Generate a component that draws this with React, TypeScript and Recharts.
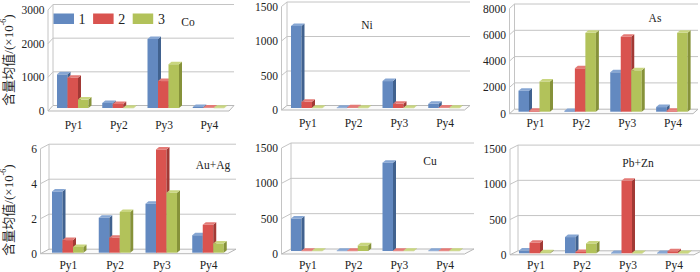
import { BarChart, Bar, XAxis, YAxis, CartesianGrid } from 'recharts';

const categories = ['Py1', 'Py2', 'Py3', 'Py4'];
const seriesNames = ['1', '2', '3'];

// 含量均值 per element, series 1/2/3
const coS1 = [1000, 150, 2050, 30];
const coS2 = [900, 120, 800, 15];
const coS3 = [250, 10, 1300, 10];

const niS1 = [1190, 5, 390, 60];
const niS2 = [90, 10, 60, 8];
const niS3 = [5, 5, 5, 5];

const asS1 = [1600, 60, 3000, 350];
const asS2 = [80, 3300, 5700, 80];
const asS3 = [2300, 6000, 3150, 6000];

const auS1 = [3.5, 2.0, 2.8, 1.0];
const auS2 = [0.72, 0.86, 5.9, 1.6];
const auS3 = [0.33, 2.33, 3.43, 0.53];

const cuS1 = [460, 5, 1250, 5];
const cuS2 = [5, 5, 5, 5];
const cuS3 = [5, 80, 5, 5];

const pbS1 = [40, 230, 5, 5];
const pbS2 = [150, 20, 1030, 30];
const pbS3 = [15, 140, 5, 5];

const coTicks = [0, 1000, 2000, 3000];
const niTicks = [0, 500, 1000, 1500];
const asTicks = [0, 2000, 4000, 6000, 8000];
const auTicks = [0, 2, 4, 6];
const cuTicks = [0, 500, 1000, 1500];
const pbTicks = [0, 500, 1000, 1500];

const COLORS = [
  { front: '#6389c0', side: '#41628f', top: '#86a6d3' },
  { front: '#d9534f', side: '#a23935', top: '#e47a76' },
  { front: '#b2c25a', side: '#86923a', top: '#c9d67f' },
];

const FONT = '"Liberation Serif", "Noto Sans CJK SC", serif';
const W = 700;
const H = 272;
const YW = 36; // y axis band width
const XH = 16; // x axis band height

const rows = (a: number[], b: number[], c: number[]) =>
  categories.map((cat, i) => ({ cat, s1: a[i], s2: b[i], s3: c[i] }));

const panels = [
  { name: 'Co', data: rows(coS1, coS2, coS3), ticks: coTicks, x0: 50, x1: 231, yTop: 7, y0: 108, fx: 2, fy: 3, bx: 3, by: 2.5, labelY: 125, nameX: 188, nameY: 22 },
  { name: 'Ni', data: rows(niS1, niS2, niS3), ticks: niTicks, x0: 284, x1: 467, yTop: 4.5, y0: 108, fx: 2.5, fy: 2, bx: 3, by: 2.5, labelY: 123, nameX: 367, nameY: 25 },
  { name: 'As', data: rows(asS1, asS2, asS3), ticks: asTicks, x0: 511.5, x1: 695, yTop: 6.5, y0: 111.7, fx: 2, fy: 2, bx: 3, by: 2.5, labelY: 123, nameX: 655, nameY: 18 },
  { name: 'Au+Ag', data: rows(auS1, auS2, auS3), ticks: auTicks, x0: 44, x1: 231, yTop: 147.7, y0: 252.7, fx: 3.5, fy: 1, bx: 5, by: 3.5, labelY: 265, nameX: 213, nameY: 165 },
  { name: 'Cu', data: rows(cuS1, cuS2, cuS3), ticks: cuTicks, x0: 284, x1: 467, yTop: 145, y0: 251, fx: 2.5, fy: 3, bx: 7, by: 2, labelY: 265, nameX: 430, nameY: 161 },
  { name: 'Pb+Zn', data: rows(pbS1, pbS2, pbS3), ticks: pbTicks, x0: 512, x1: 696, yTop: 147.6, y0: 253.3, fx: 2, fy: 1.5, bx: 6, by: 2.5, labelY: 265, nameX: 638, nameY: 163 },
];

type Panel = (typeof panels)[number];

const GRID = '#c4c4c4';

function makeGrid(P: Panel) {
  return (p: any) => {
    const y = p.y1;
    const isFloor = Math.abs(y - P.y0) < 0.6;
    const fxL = P.x0 - P.fx;
    const bxL = P.x0 + P.bx;
    const bxR = P.x1 + P.bx;
    return (
      <g key={p.key}>
        {p.index === 0 && (
          <g>
            <line x1={fxL} y1={P.yTop + P.fy} x2={fxL} y2={P.y0 + P.fy} stroke={GRID} />
            <line x1={bxL} y1={P.yTop - P.by} x2={bxL} y2={P.y0 - P.by} stroke={GRID} />
            <polygon
              points={`${fxL},${P.y0 + P.fy} ${P.x1 - P.fx},${P.y0 + P.fy} ${bxR},${P.y0 - P.by} ${bxL},${P.y0 - P.by}`}
              fill="#fafafa"
              stroke="#b8b8b8"
            />
          </g>
        )}
        {!isFloor && (
          <path
            d={`M${fxL},${y + P.fy} L${bxL},${y - P.by} L${bxR},${y - P.by}`}
            fill="none"
            stroke={GRID}
          />
        )}
      </g>
    );
  };
}

function makeBar(c: { front: string; side: string; top: string }) {
  return (props: any) => {
    const { x, y, width: w, height: h } = props;
    if (x == null || y == null) return <g />;
    const sx = 3;
    const sy = 2.5;
    return (
      <g>
        <rect x={x} y={y} width={w} height={Math.max(h, 0.5)} fill={c.front} />
        <polygon points={`${x + w},${y} ${x + w + sx},${y - sy} ${x + w + sx},${y + h - sy} ${x + w},${y + h}`} fill={c.side} />
        <polygon points={`${x},${y} ${x + sx},${y - sy} ${x + w + sx},${y - sy} ${x + w},${y}`} fill={c.top} />
      </g>
    );
  };
}

function PanelChart({ P }: { P: Panel }) {
  const max = P.ticks[P.ticks.length - 1];
  return (
    <div style={{ position: 'absolute', left: 0, top: 0 }}>
      <BarChart
        width={W}
        height={H}
        data={P.data}
        margin={{ top: P.yTop, bottom: H - P.y0 - XH, left: P.x0 - YW, right: W - P.x1 }}
        barGap={0}
        barSize={10.5}
      >
        <CartesianGrid vertical={false} horizontal={makeGrid(P)} />
        <XAxis
          dataKey="cat"
          height={XH}
          tickLine={false}
          axisLine={false}
          interval={0}
          tick={(p: any) => (
            <text key={p.index} x={p.x + 1} y={P.labelY} textAnchor="middle" dominantBaseline="central" fontFamily={FONT} fontSize={11.5} fill="#222">
              {p.payload.value}
            </text>
          )}
        />
        <YAxis
          type="number"
          domain={[0, max]}
          ticks={P.ticks}
          width={YW}
          tickLine={false}
          axisLine={false}
          interval={0}
          tick={(p: any) => (
            <text key={p.index} x={P.x0 - P.fx - 3.5} y={p.y + P.fy} textAnchor="end" dominantBaseline="central" fontFamily={FONT} fontSize={11.5} fill="#222">
              {p.payload.value}
            </text>
          )}
        />
        {['s1', 's2', 's3'].map((k, i) => (
          <Bar key={k} dataKey={k} name={seriesNames[i]} fill={COLORS[i].front} isAnimationActive={false} shape={makeBar(COLORS[i])} />
        ))}
      </BarChart>
    </div>
  );
}

function YTitle({ cx, cy }: { cx: number; cy: number }) {
  return (
    <text transform={`translate(${cx},${cy}) rotate(-90)`} textAnchor="middle" dominantBaseline="central" fontFamily={FONT} fontSize={13} fill="#222">
      含量均值/(×10<tspan dy={-5} fontSize={8}>-6</tspan>
      <tspan dy={5}>)</tspan>
    </text>
  );
}

export default function App() {
  return (
    <div style={{ position: 'fixed', left: 0, top: 0, width: W, height: H, background: '#fff', overflow: 'hidden' }}>
      {panels.map((P) => (
        <PanelChart key={P.name} P={P} />
      ))}
      <svg width={W} height={H} style={{ position: 'absolute', left: 0, top: 0 }}>
        <YTitle cx={8} cy={60} />
        <YTitle cx={8} cy={210} />
        {seriesNames.map((s, i) => (
          <g key={s}>
            <rect x={53.5 + i * 39.6} y={13.5} width={20.5} height={10.5} fill={COLORS[i].front} />
            <text x={82 + i * 39.8} y={19} textAnchor="middle" dominantBaseline="central" fontFamily={FONT} fontSize={14} fill="#222">
              {s}
            </text>
          </g>
        ))}
        {panels.map((P) => (
          <text key={P.name} x={P.nameX} y={P.nameY} textAnchor="middle" dominantBaseline="central" fontFamily={FONT} fontSize={11.5} fill="#222">
            {P.name}
          </text>
        ))}
      </svg>
    </div>
  );
}
